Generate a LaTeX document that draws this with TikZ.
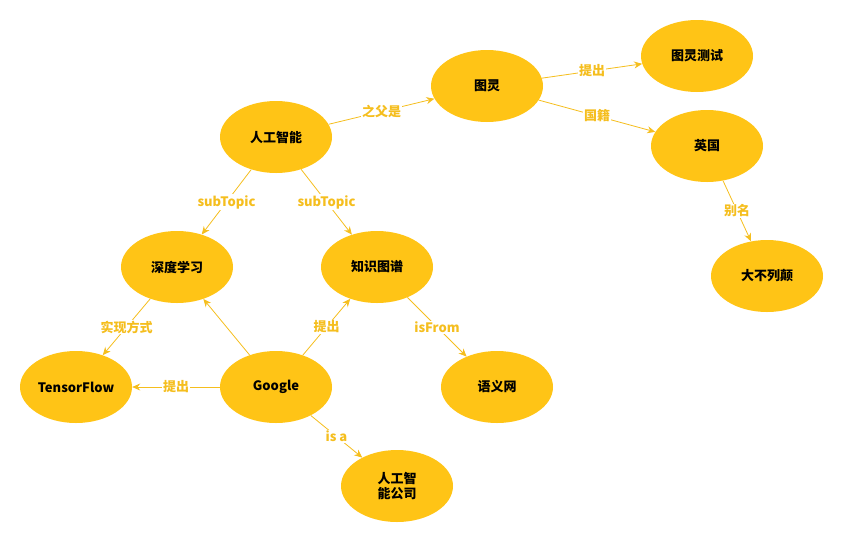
\documentclass[tikz,border=0pt]{standalone}
\usepackage{fontspec}
\setmainfont{Liberation Sans}
\newfontfamily\cjk{Noto Sans CJK SC}
\usetikzlibrary{arrows.meta, shapes.geometric}
\definecolor{kgyellow}{RGB}{255,196,22}
\definecolor{kgedge}{RGB}{245,190,30}
\begin{document}
\begin{tikzpicture}[x=1pt, y=-1pt,
  every node/.style={font=\cjk\bfseries\fontsize{13}{15}\selectfont},
  concept/.style={ellipse, fill=kgyellow, minimum width=112pt, minimum height=72pt,
                  inner sep=0pt, align=center},
  rel/.style={-{Stealth[length=8pt,width=7pt]}, thick, kgedge},
  lbl/.style={fill=white, inner sep=1pt}]
  \useasboundingbox (0,0) rectangle (842,542);
  % Concepts
  \node[concept] (ai) at (276,137) {人工智能};
  \node[concept] (turing) at (487,86) {图灵};
  \node[concept] (test) at (697,56) {图灵测试};
  \node[concept] (uk) at (707,146) {英国};
  \node[concept] (gb) at (767,276) {大不列颠};
  \node[concept] (dl) at (177,267) {深度学习};
  \node[concept] (kg) at (377,267) {知识图谱};
  \node[concept] (tf) at (76,387) {TensorFlow};
  \node[concept] (google) at (276,387) {Google};
  \node[concept] (sw) at (497,387) {语义网};
  \node[concept] (co) at (397,486) {人工智\\能公司};

  % Relations
  \draw[rel] (ai) -- node[lbl] {之父是} (turing);
  \draw[rel] (turing) -- node[lbl] {提出} (test);
  \draw[rel] (turing) -- node[lbl] {国籍} (uk);
  \draw[rel] (uk) -- node[lbl] {别名} (gb);
  \draw[rel] (ai) -- node[lbl] {subTopic} (dl);
  \draw[rel] (ai) -- node[lbl] {subTopic} (kg);
  \draw[rel] (dl) -- node[lbl] {实现方式} (tf);
  \draw[rel] (google) -- (dl);
  \draw[rel] (google) -- node[lbl] {提出} (kg);
  \draw[rel] (google) -- node[lbl] {提出} (tf);
  \draw[rel] (kg) -- node[lbl] {isFrom} (sw);
  \draw[rel] (google) -- node[lbl] {is a} (co);
\end{tikzpicture}
\end{document}
